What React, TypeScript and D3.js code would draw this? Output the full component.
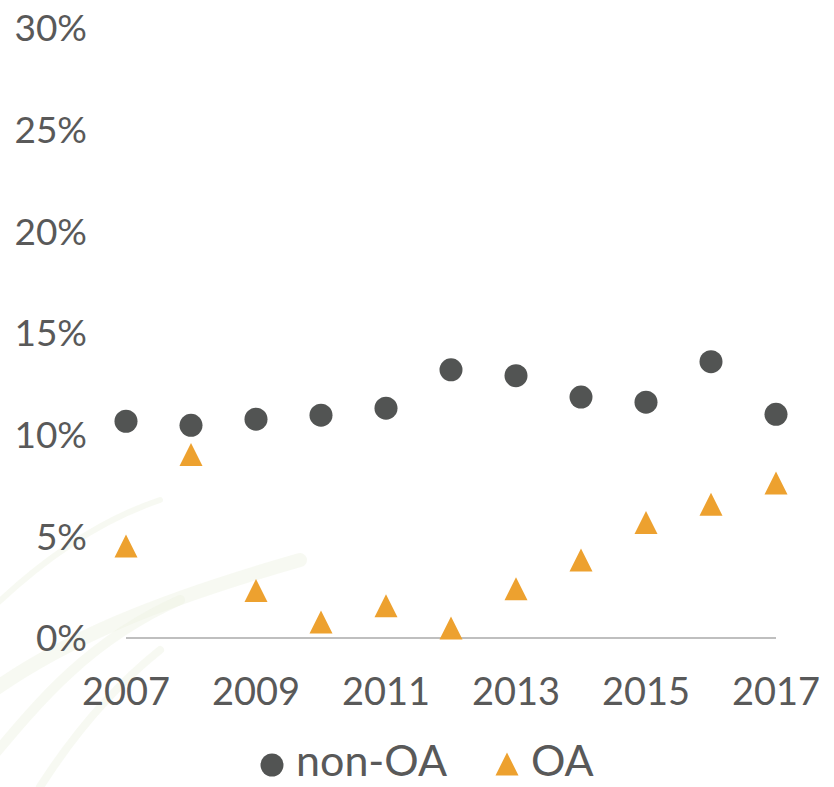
import React, { useEffect, useRef } from 'react';
import * as d3 from 'd3';

const years = [2007, 2008, 2009, 2010, 2011, 2012, 2013, 2014, 2015, 2016, 2017];
const nonOA = [10.66, 10.46, 10.76, 10.96, 11.3, 13.19, 12.9, 11.85, 11.6, 13.59, 11.0];
const oa = [4.53, 9.02, 2.34, 0.79, 1.58, 0.49, 2.42, 3.83, 5.68, 6.58, 7.62];
const yTicks = [0, 5, 10, 15, 20, 25, 30];
const xTickYears = [2007, 2009, 2011, 2013, 2015, 2017];

const W = 834;
const H = 787;
const FONT = 'Lato, "Open Sans", sans-serif';
const TEXT = '#595959';
const DARK = '#525453';
const ORANGE = '#EDA12F';

// bbox-centred triangle, width == height like the Excel marker
const tri = {
  draw(ctx: any, size: number) {
    const h = Math.sqrt(size) / 2;
    ctx.moveTo(0, -h);
    ctx.lineTo(h, h);
    ctx.lineTo(-h, h);
    ctx.closePath();
  },
};

export default function App() {
  const ref = useRef<SVGSVGElement>(null);

  useEffect(() => {
    const svg = d3.select(ref.current);
    svg.selectAll('*').remove();

    const x = d3.scaleLinear().domain([2007, 2017]).range([126, 776]);
    const y = d3.scaleLinear().domain([0, 30]).range([638, 28]);

    // very faint leaf-like background in lower left
    const bg = svg.append('g').attr('fill', 'none');
    const curves = [
      'M-20,700 C60,640 160,600 300,560',
      'M-10,760 C40,700 90,640 180,600',
      'M40,787 C70,740 110,690 160,650',
      'M-20,620 C40,560 100,520 160,500',
    ];
    bg.selectAll('path')
      .data(curves)
      .enter()
      .append('path')
      .attr('d', d => d)
      .attr('stroke', '#eef1e2')
      .attr('stroke-width', (d, i) => [14, 10, 8, 6][i])
      .attr('stroke-linecap', 'round')
      .attr('opacity', 0.45);

    // y labels
    svg
      .append('g')
      .selectAll('text')
      .data(yTicks)
      .enter()
      .append('text')
      .attr('x', 87)
      .attr('y', d => y(d))
      .attr('dy', '0.36em')
      .attr('text-anchor', 'end')
      .attr('font-family', FONT)
      .attr('font-size', 37)
      .attr('fill', TEXT)
      .text(d => d + '%');

    // baseline
    svg
      .append('line')
      .attr('x1', x(2007))
      .attr('x2', x(2017))
      .attr('y1', y(0))
      .attr('y2', y(0))
      .attr('stroke', '#BFBFBF')
      .attr('stroke-width', 2);

    // x labels
    svg
      .append('g')
      .selectAll('text')
      .data(xTickYears)
      .enter()
      .append('text')
      .attr('x', d => x(d))
      .attr('y', 705)
      .attr('text-anchor', 'middle')
      .attr('font-family', FONT)
      .attr('font-size', 38)
      .attr('fill', TEXT)
      .text(d => d);

    // non-OA circles
    svg
      .append('g')
      .selectAll('circle')
      .data(nonOA)
      .enter()
      .append('circle')
      .attr('cx', (d, i) => x(years[i]))
      .attr('cy', d => y(d))
      .attr('r', 11.5)
      .attr('fill', DARK);

    // OA triangles
    const triPath = d3.symbol().type(tri as any).size(23 * 23);
    svg
      .append('g')
      .selectAll('path')
      .data(oa)
      .enter()
      .append('path')
      .attr('d', triPath as any)
      .attr('transform', (d, i) => `translate(${x(years[i])},${y(d)})`)
      .attr('fill', ORANGE);

    // legend
    const lg = svg.append('g');
    lg.append('circle').attr('cx', 272).attr('cy', 765).attr('r', 11.5).attr('fill', DARK);
    lg.append('text')
      .attr('x', 296)
      .attr('y', 776)
      .attr('font-family', FONT)
      .attr('font-size', 43)
      .attr('fill', TEXT)
      .text('non-OA');
    lg.append('path')
      .attr('d', triPath as any)
      .attr('transform', 'translate(507,764)')
      .attr('fill', ORANGE);
    lg.append('text')
      .attr('x', 531)
      .attr('y', 776)
      .attr('font-family', FONT)
      .attr('font-size', 43)
      .attr('fill', TEXT)
      .text('OA');
  }, []);

  return (
    <div style={{ position: 'absolute', left: 0, top: 0 }}>
      <svg ref={ref} width={W} height={H} style={{ display: 'block', background: '#fff' }} />
    </div>
  );
}
